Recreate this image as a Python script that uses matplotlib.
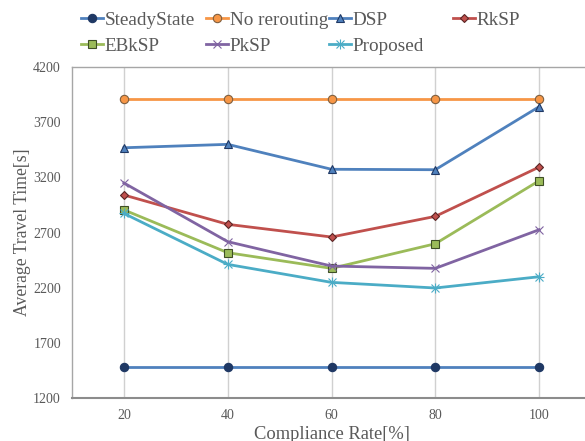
import matplotlib
matplotlib.use("Agg")
import matplotlib.pyplot as plt

x = [20, 40, 60, 80, 100]
steady = [1480, 1480, 1480, 1480, 1480]
norerout = [3910, 3910, 3910, 3910, 3910]
dsp = [3468, 3499, 3273, 3269, 3840]
rksp = [3040, 2774, 2659, 2846, 3293]
ebksp = [2905, 2517, 2375, 2598, 3169]
pksp = [3149, 2617, 2396, 2375, 2725]
proposed = [2873, 2411, 2248, 2197, 2299]

plt.rcParams['font.family'] = ['Liberation Serif', 'DejaVu Serif']

W, H = 585, 441
fig = plt.figure(figsize=(W/100, H/100), dpi=100)
ax = fig.add_axes([72/W, 1-398/H, (591-72)/W, (398-67)/H])

series = [
    ("SteadyState", steady, "#4F81BD", "o", "#1F3864", "#1F3864", 6),
    ("No rerouting", norerout, "#F79646", "o", "#F79646", "#7F5F3F", 6),
    ("DSP", dsp, "#4F81BD", "^", "#4F81BD", "#1F3864", 6),
    ("RkSP", rksp, "#C0504D", "D", "#C0504D", "#5A2524", 4.5),
    ("EBkSP", ebksp, "#9BBB59", "s", "#9BBB59", "#3F4F26", 6),
    ("PkSP", pksp, "#8064A2", "x", "#8064A2", "#8064A2", 6),
    ("Proposed", proposed, "#4BACC6", "x", "#4BACC6", "#4BACC6", 6),
]
handles = {}
for name, vals, lc, mk, mfc, mec, ms in series:
    ln, = ax.plot(x, vals, color=lc, lw=2, marker=mk, markersize=ms,
                  markerfacecolor=mfc, markeredgecolor=mec, markeredgewidth=0.8,
                  label=name, zorder=3)
    h = ln
    if name == "Proposed":
        pl, = ax.plot(x, vals, ls='none', marker='+', markersize=ms + 1, color=lc,
                      markeredgewidth=0.8, zorder=3)
        h = (ln, pl)
    handles[name] = h

ax.set_xlim(10, 110)
ax.set_ylim(1200, 4200)
ax.set_xticks(x)
ax.set_yticks([1200, 1700, 2200, 2700, 3200, 3700, 4200])
ax.tick_params(axis='both', length=0, labelsize=10, colors='#595959', pad=8)
ax.grid(axis='x', color='#D0D0D0', lw=1)
ax.set_axisbelow(True)
for s in ['top', 'left']:
    ax.spines[s].set_color('#A6A6A6')
    ax.spines[s].set_linewidth(1)
ax.spines['bottom'].set_color('#8C8C8C')
ax.spines['bottom'].set_linewidth(1.5)
ax.spines['right'].set_visible(False)

ax.set_xlabel("Compliance Rate[%]", fontsize=13.3, color='#595959', labelpad=2.5)
ax.set_ylabel("Average Travel Time[s]", fontsize=12.7, color='#595959', labelpad=1.5)

# legend entries laid out in a 4-column grid, row by row
leg_pos = {
    "SteadyState": (81, 20), "No rerouting": (206, 20), "DSP": (329, 20), "RkSP": (453, 20),
    "EBkSP": (81, 46), "PkSP": (206, 46), "Proposed": (329, 46),
}
for name, (px, py) in leg_pos.items():
    lg = fig.legend([handles[name]], [name], loc='center left',
                    bbox_to_anchor=(px/W, 1-py/H), frameon=False, fontsize=13.8,
                    handlelength=1.15, handletextpad=0.1, borderpad=0,
                    borderaxespad=0)
    for t in lg.get_texts():
        t.set_color('#595959')

fig.savefig("out.png", dpi=100)
